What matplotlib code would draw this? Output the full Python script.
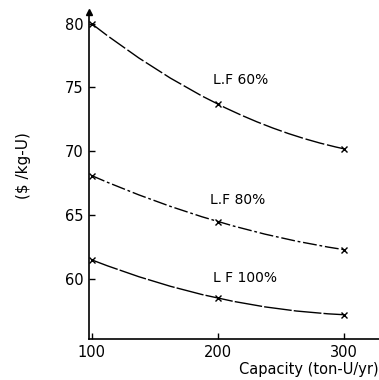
import numpy as np
import matplotlib
matplotlib.use("Agg")
import matplotlib.pyplot as plt
from matplotlib.path import Path
from matplotlib.patches import PathPatch

capacity = [100, 200, 300]
lf60 = [80.0, 73.7, 70.2]
lf80 = [68.1, 64.5, 62.3]
lf100 = [61.5, 58.5, 57.2]
series_labels = ["L.F 60%", "L.F 80%", "L F 100%"]
yticks = [60, 65, 70, 75, 80]
xticks = [100, 200, 300]

plt.rcParams['font.family'] = ['DejaVu Sans']

fig = plt.figure(figsize=(3.79, 3.80), dpi=100)
ax = fig.add_axes([0.235, 0.108, 0.765, 0.86])
ax.set_xlim(98, 328)
ax.set_ylim(55.3, 80.9)

def curve(xs, ys, ls):
    p0 = np.array([xs[0], ys[0]]); p1 = np.array([xs[1], ys[1]]); p2 = np.array([xs[2], ys[2]])
    c = 2 * p1 - (p0 + p2) / 2
    path = Path([p0, c, p2], [Path.MOVETO, Path.CURVE3, Path.CURVE3])
    ax.add_patch(PathPatch(path, fill=False, lw=1.0, color='black', linestyle=ls))
    ax.plot(xs, ys, linestyle='none', marker='x', ms=4, mew=1.0, color='black')

curve(capacity, lf60, (0, (14, 2)))
curve(capacity, lf80, (0, (10, 2, 2, 2)))
curve(capacity, lf100, (0, (20, 1.5)))

ax.text(196, 75.0, series_labels[0], fontsize=10, ha='left', va='bottom')
ax.text(194, 65.6, series_labels[1], fontsize=10, ha='left', va='bottom')
ax.text(196, 59.5, series_labels[2], fontsize=10, ha='left', va='bottom')

for s in ['top', 'right']:
    ax.spines[s].set_visible(False)
for s in ['left', 'bottom']:
    ax.spines[s].set_linewidth(1.2)
ax.plot(0, 1, marker='^', ms=5, color='black', transform=ax.transAxes, clip_on=False)

ax.set_yticks(yticks)
ax.set_xticks(xticks)
ax.tick_params(direction='in', length=4, width=1, labelsize=10.5, pad=4)
ax.set_ylabel('($ /kg-U)', fontsize=11)
ax.yaxis.set_label_coords(-0.2, 0.53)
ax.set_xlabel('Capacity (ton-U/yr)', fontsize=10.5, loc='right', labelpad=2)

fig.savefig('out.png', dpi=100)
